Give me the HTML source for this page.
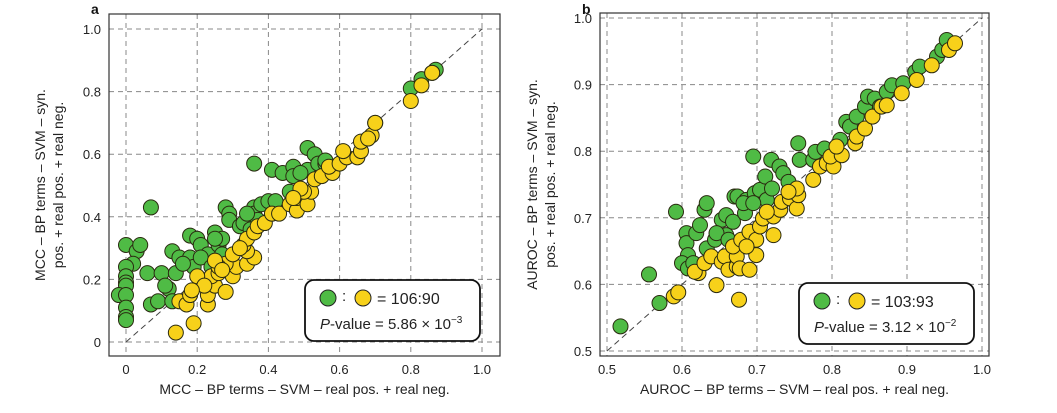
<!DOCTYPE html>
<html><head><meta charset="utf-8"><style>
body{margin:0;background:#fff}
svg{display:block;font-family:"Liberation Sans",sans-serif}
</style></head><body>
<svg id="c" width="1057" height="413"></svg>
<script>
const aGreen=[[0,0.31],[0.03,0.29],[0.04,0.31],[0.02,0.25],[0,0.24],[0,0.21],[0,0.19],[0,0.18],[-0.02,0.15],[0,0.15],[0,0.11],[0,0.08],[0,0.07],[0.06,0.22],[0.1,0.22],[0.07,0.43],[0.07,0.12],[0.09,0.13],[0.13,0.29],[0.14,0.22],[0.12,0.17],[0.13,0.13],[0.15,0.27],[0.18,0.34],[0.2,0.33],[0.21,0.31],[0.18,0.27],[0.19,0.24],[0.23,0.28],[0.25,0.35],[0.26,0.31],[0.27,0.33],[0.28,0.43],[0.29,0.41],[0.29,0.39],[0.32,0.37],[0.33,0.38],[0.36,0.43],[0.36,0.41],[0.37,0.39],[0.36,0.57],[0.38,0.44],[0.41,0.55],[0.44,0.54],[0.47,0.56],[0.47,0.53],[0.4,0.45],[0.42,0.45],[0.46,0.48],[0.51,0.62],[0.51,0.55],[0.53,0.6],[0.54,0.57],[0.56,0.57],[0.56,0.58],[0.8,0.81],[0.83,0.84],[0.87,0.87],[0.86,0.86],[0.7,0.7],[0.21,0.27],[0.24,0.24],[0.16,0.25],[0.11,0.18],[0.25,0.33],[0.27,0.28],[0.35,0.36],[0.34,0.41],[0.49,0.54]];
const aYellow=[[0.14,0.03],[0.19,0.06],[0.15,0.13],[0.17,0.12],[0.18,0.15],[0.23,0.12],[0.23,0.15],[0.25,0.18],[0.28,0.16],[0.21,0.19],[0.24,0.21],[0.26,0.22],[0.3,0.21],[0.31,0.24],[0.28,0.25],[0.26,0.24],[0.34,0.25],[0.36,0.27],[0.34,0.29],[0.3,0.28],[0.33,0.31],[0.34,0.33],[0.36,0.35],[0.37,0.37],[0.39,0.38],[0.41,0.41],[0.43,0.41],[0.46,0.44],[0.48,0.42],[0.48,0.46],[0.51,0.44],[0.52,0.48],[0.5,0.48],[0.49,0.49],[0.53,0.52],[0.55,0.53],[0.58,0.54],[0.57,0.56],[0.6,0.57],[0.62,0.59],[0.61,0.61],[0.65,0.59],[0.66,0.61],[0.66,0.64],[0.69,0.66],[0.68,0.65],[0.7,0.7],[0.8,0.77],[0.83,0.82],[0.86,0.86],[0.2,0.21],[0.22,0.18],[0.185,0.165],[0.25,0.26],[0.27,0.23],[0.32,0.3],[0.47,0.46]];
const bGreen=[[0.518,0.537],[0.556,0.615],[0.57,0.572],[0.592,0.709],[0.606,0.677],[0.606,0.662],[0.608,0.644],[0.6,0.632],[0.608,0.624],[0.619,0.677],[0.624,0.689],[0.63,0.712],[0.633,0.722],[0.633,0.654],[0.644,0.667],[0.653,0.697],[0.659,0.704],[0.659,0.674],[0.668,0.694],[0.67,0.732],[0.674,0.732],[0.684,0.707],[0.686,0.727],[0.695,0.792],[0.697,0.737],[0.704,0.742],[0.711,0.762],[0.713,0.727],[0.719,0.787],[0.72,0.744],[0.73,0.777],[0.735,0.767],[0.742,0.754],[0.755,0.812],[0.757,0.787],[0.775,0.787],[0.778,0.799],[0.79,0.804],[0.811,0.817],[0.819,0.844],[0.824,0.837],[0.833,0.852],[0.844,0.867],[0.848,0.882],[0.857,0.879],[0.864,0.867],[0.873,0.889],[0.88,0.899],[0.895,0.902],[0.911,0.919],[0.917,0.927],[0.94,0.942],[0.947,0.952],[0.953,0.967],[0.682,0.722],[0.695,0.722],[0.646,0.677],[0.662,0.667],[0.615,0.632]];
const bYellow=[[0.589,0.582],[0.595,0.588],[0.622,0.617],[0.617,0.619],[0.646,0.599],[0.676,0.577],[0.63,0.632],[0.639,0.642],[0.653,0.634],[0.657,0.642],[0.662,0.622],[0.673,0.627],[0.673,0.642],[0.677,0.624],[0.69,0.622],[0.668,0.657],[0.679,0.667],[0.69,0.679],[0.699,0.667],[0.699,0.644],[0.704,0.687],[0.708,0.699],[0.722,0.674],[0.722,0.702],[0.731,0.712],[0.733,0.724],[0.744,0.729],[0.753,0.714],[0.755,0.734],[0.753,0.744],[0.775,0.757],[0.784,0.777],[0.793,0.782],[0.802,0.777],[0.798,0.792],[0.813,0.794],[0.806,0.807],[0.831,0.812],[0.833,0.822],[0.844,0.834],[0.854,0.852],[0.866,0.867],[0.873,0.869],[0.893,0.887],[0.913,0.907],[0.933,0.929],[0.956,0.952],[0.964,0.962],[0.686,0.657],[0.713,0.709],[0.742,0.739]];
const aTicks=[0,0.2,0.4,0.6,0.8,1.0];
const aTickLabels=["0","0.2","0.4","0.6","0.8","1.0"];
const bTicks=[0.5,0.6,0.7,0.8,0.9,1.0];
const bTickLabels=["0.5","0.6","0.7","0.8","0.9","1.0"];

const NS="http://www.w3.org/2000/svg";
const svg=document.getElementById('c');
function mk(tag,attrs,parent,text){const e=document.createElementNS(NS,tag);for(const k in attrs)e.setAttribute(k,attrs[k]);if(text!=null)e.textContent=text;(parent||svg).appendChild(e);return e;}

function panel(o){
  const g=mk('g',{});
  
  
  const sx=v=>o.px0+(v-o.d0)/(o.d1-o.d0)*(o.px1-o.px0);
  const sy=v=>o.py0+(v-o.d0)/(o.d1-o.d0)*(o.py1-o.py0);
  o.ticks.forEach((t,i)=>{
    const gx=mk('line',{x1:sx(t),x2:sx(t),y1:o.fy0,y2:o.fy1,stroke:'#888','stroke-dasharray':'5,4','stroke-width':1},g);
    
    
    const gy=mk('line',{x1:o.fx0,x2:o.fx1,y1:sy(t),y2:sy(t),stroke:'#888','stroke-dasharray':'5,4','stroke-width':1},g);
    
    
    const xl=mk('text',{x:sx(t),y:o.fy1+18,'font-size':13,'text-anchor':'middle',fill:'#222'},g,o.labels[i]);
    
    
    const yl=mk('text',{x:o.fx0-8,y:sy(t)+5,'font-size':13,'text-anchor':'end',fill:'#222'},g,o.labels[i]);
    
    
  });
  const dg=mk('line',{x1:sx(o.d0),y1:sy(o.d0),x2:sx(o.d1),y2:sy(o.d1),stroke:'#444','stroke-dasharray':'6,4','stroke-width':1},g);
  
  
  [[o.green,'#4fbb45','green-point'],[o.yellow,'#f7d11a','yellow-point']].forEach(([arr,col,nm])=>{
    arr.forEach(p=>{
      const c=mk('circle',{cx:sx(p[0]),cy:sy(p[1]),r:7.5,fill:col,stroke:'#2a2a10','stroke-width':1},g);
      
      
    });
  });
  const fr=mk('rect',{x:o.fx0,y:o.fy0,width:o.fx1-o.fx0,height:o.fy1-o.fy0,fill:'none',stroke:'#333','stroke-width':1.2},g);
  
  
  const L=o.leg;
  const lg=mk('g',{},g);
  
  
  mk('rect',{x:L.x,y:L.y,width:175,height:61,rx:9,fill:'#fff',stroke:'#111','stroke-width':1.8},lg);
  mk('circle',{cx:L.x+23,cy:L.y+18,r:8,fill:'#4fbb45',stroke:'#222'},lg);
  mk('text',{x:L.x+37,y:L.y+21,'font-size':15,fill:'#222'},lg,':');
  mk('circle',{cx:L.x+58,cy:L.y+18,r:8,fill:'#f7d11a',stroke:'#222'},lg);
  mk('text',{x:L.x+72,y:L.y+24,'font-size':16,fill:'#222'},lg,'= '+L.ratio);
  const pt=mk('text',{x:L.x+15,y:L.y+49,'font-size':15,fill:'#222'},lg);
  mk('tspan',{'font-style':'italic'},pt,'P');
  mk('tspan',{},pt,'-value = '+L.p+' × 10');
  mk('tspan',{dy:-6,'font-size':10},pt,L.exp);
  const xt=mk('text',{x:(o.fx0+o.fx1)/2,y:394,'font-size':14,'text-anchor':'middle',fill:'#222'},g,o.xtitle);
  
  
  const cy=(o.fy0+o.fy1)/2;
  const yt=mk('text',{transform:`translate(${o.ytx},${cy}) rotate(-90)`,'font-size':14,'text-anchor':'middle',fill:'#222'},g);
  
  
  mk('tspan',{x:0,y:0},yt,o.yt1);
  mk('tspan',{x:0,y:18},yt,o.yt2);
  const pl=mk('text',{x:o.fx0-18,y:14,'font-size':14,'font-weight':'bold',fill:'#111'},g,o.letter);
  
  
}
panel({name:'panel-a-mcc',green:aGreen,yellow:aYellow,ticks:aTicks,labels:aTickLabels,d0:0,d1:1,px0:126,px1:482,py0:342,py1:29,
 fx0:109,fx1:500,fy0:14,fy1:356,leg:{x:305,y:280,ratio:'106:90',p:'5.86',exp:'−3'},
 xtitle:'MCC – BP terms – SVM – real pos. + real neg.',ytx:45,yt1:'MCC – BP terms – SVM – syn.',yt2:'pos. + real pos. + real neg.',letter:'a'});
panel({name:'panel-b-auroc',green:bGreen,yellow:bYellow,ticks:bTicks,labels:bTickLabels,d0:0.5,d1:1,px0:607,px1:982,py0:351,py1:18,
 fx0:600,fx1:989,fy0:13,fy1:356,leg:{x:799,y:283,ratio:'103:93',p:'3.12',exp:'−2'},
 xtitle:'AUROC – BP terms – SVM – real pos. + real neg.',ytx:537,yt1:'AUROC – BP terms – SVM – syn.',yt2:'pos. + real pos. + real neg.',letter:'b'});
</script>
</body></html>
